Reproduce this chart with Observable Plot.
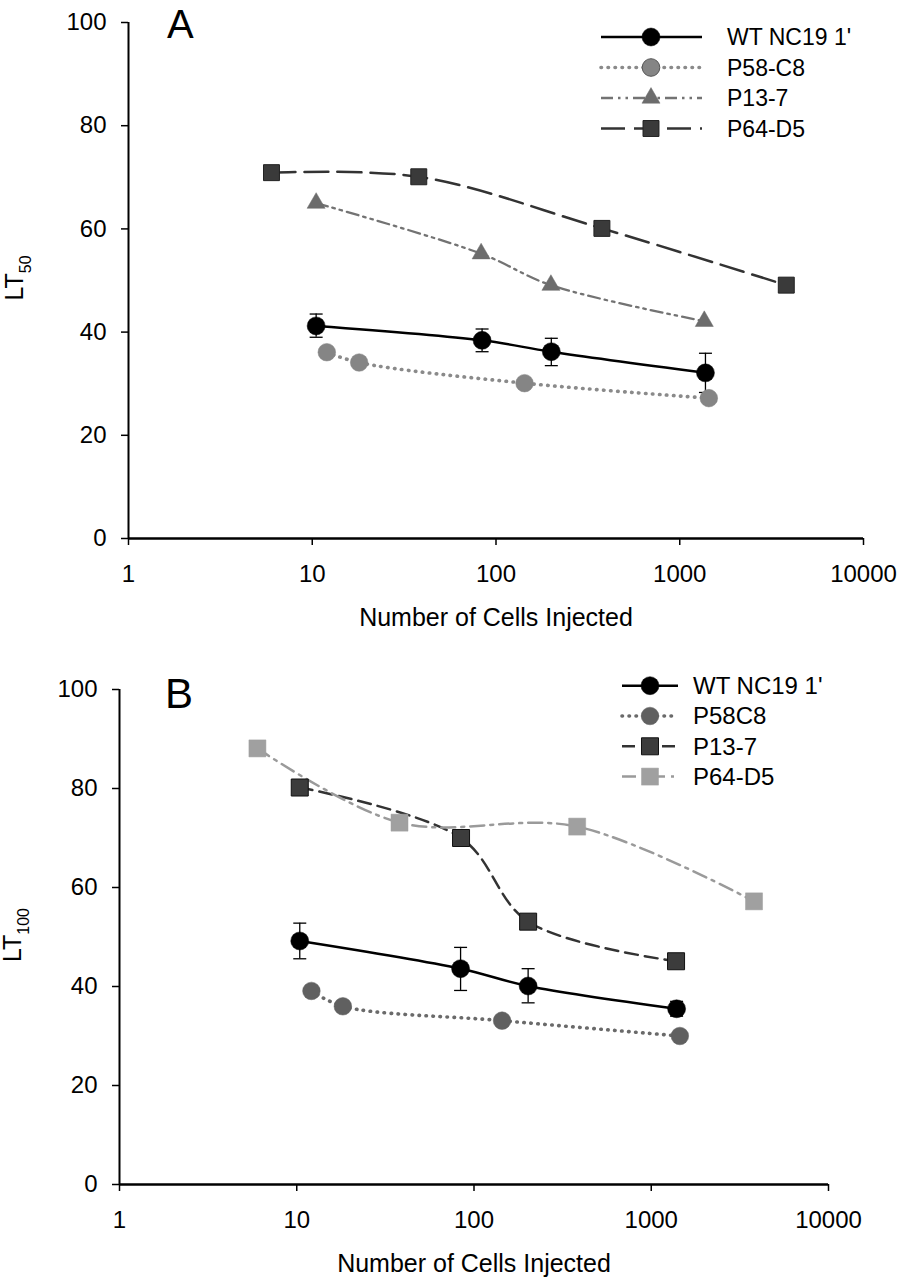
<!DOCTYPE html>
<html><head><meta charset="utf-8">
<script src="https://cdn.jsdelivr.net/npm/d3@7"></script>
<script src="https://cdn.jsdelivr.net/npm/@observablehq/plot@0.6"></script>
<style>
body{margin:0;background:#fff;}
#chart svg{display:block;}
</style></head><body><div id="chart"></div>
<script>
const FONT = "'Liberation Sans', Arial, Helvetica, sans-serif";
const xTicks = [1, 10, 100, 1000, 10000];
const yTicks = [0, 20, 40, 60, 80, 100];
const xTitle = "Number of Cells Injected";

// Panel A — LT50
const namesA = ["WT NC19 1'", "P58-C8", "P13-7", "P64-D5"];
const aWtX = [10.5, 84, 200, 1380];
const aWtY = [41.2, 38.4, 36.2, 32.1];
const aWtLo = [39.0, 36.2, 33.5, 28.3];
const aWtHi = [43.5, 40.6, 38.8, 35.9];
const aP58X = [12, 18, 143, 1440];
const aP58Y = [36.1, 34.1, 30.1, 27.2];
const aP13X = [10.5, 83, 199, 1360];
const aP13Y = [65.0, 55.2, 49.1, 42.1];
const aP64X = [6, 38, 377, 3800];
const aP64Y = [70.9, 70.1, 60.1, 49.1];

// Panel B — LT100
const namesB = ["WT NC19 1'", "P58C8", "P13-7", "P64-D5"];
const bWtX = [10.4, 84, 202, 1390];
const bWtY = [49.2, 43.6, 40.1, 35.5];
const bWtLo = [45.6, 39.2, 36.7, 34.0];
const bWtHi = [52.8, 47.9, 43.6, 37.0];
const bP58X = [12.1, 18.2, 144, 1450];
const bP58Y = [39.1, 36.0, 33.1, 30.0];
const bP13X = [10.4, 84.5, 202, 1380];
const bP13Y = [80.2, 70.0, 53.1, 45.1];
const bP64X = [6, 38, 382, 3800];
const bP64Y = [88.1, 73.1, 72.3, 57.2];

const rows = (xs, ys, lo, hi) => xs.map((x, i) => ({x, y: ys[i], lo: lo ? lo[i] : null, hi: hi ? hi[i] : null}));

const capSymbol = {draw(ctx) { ctx.moveTo(-6.5, 0); ctx.lineTo(6.5, 0); }};

const panels = [
  {
    height: 650, marginTop: 22, marginBottom: 112, marginLeft: 128, marginRight: 37,
    letter: "A", letterX: 167, letterY: 38, letterSize: 40,
    ylab: "LT", ysub: "50", ylabX: 23, ylabY: 278,
    leg: {y0: 37, dy: 30.5, x1: 601, x2: 702, mx: 651, tx: 727, fs: 23},
    series: [
      {name: namesA[0], data: rows(aWtX, aWtY, aWtLo, aWtHi), err: true,
       line: {stroke: "#000", strokeWidth: 2.5},
       dot: {symbol: "circle", r: 9, fill: "#000", stroke: "#000", strokeWidth: 0.5}},
      {name: namesA[1], data: rows(aP58X, aP58Y),
       line: {stroke: "#8a8a8a", strokeWidth: 3.6, strokeDasharray: "0.5,6.5", strokeLinecap: "round"},
       dot: {symbol: "circle", r: 8.8, fill: "#858585", stroke: "#858585", strokeWidth: 0.5},
       legDot: {stroke: "#555", strokeWidth: 1}},
      {name: namesA[2], data: rows(aP13X, aP13Y),
       line: {stroke: "#737373", strokeWidth: 2.3, strokeDasharray: "12,5,2.5,5,2.5,5"},
       dot: {symbol: "triangle", r: 6.7, fill: "#6c6c6c", stroke: "#6c6c6c", strokeWidth: 0.5}},
      {name: namesA[3], data: rows(aP64X, aP64Y),
       line: {stroke: "#333", strokeWidth: 2.5, strokeDasharray: "24,9"},
       dot: {symbol: "square", r: 9, fill: "#3a3a3a", stroke: "#222", strokeWidth: 1}}
    ]
  },
  {
    height: 630, marginTop: 39, marginBottom: 96, marginLeft: 119, marginRight: 72,
    letter: "B", letterX: 165, letterY: 58, letterSize: 42,
    ylab: "LT", ysub: "100", ylabX: 20.5, ylabY: 285,
    leg: {y0: 35.7, dy: 30.3, x1: 622, x2: 678, mx: 650, tx: 693, fs: 24},
    series: [
      {name: namesB[0], data: rows(bWtX, bWtY, bWtLo, bWtHi), err: true,
       line: {stroke: "#000", strokeWidth: 2.5},
       dot: {symbol: "circle", r: 9, fill: "#000", stroke: "#000", strokeWidth: 0.5}},
      {name: namesB[1], data: rows(bP58X, bP58Y),
       line: {stroke: "#6a6a6a", strokeWidth: 3.6, strokeDasharray: "0.5,6.5", strokeLinecap: "round"},
       dot: {symbol: "circle", r: 8.8, fill: "#606060", stroke: "#606060", strokeWidth: 0.5}},
      {name: namesB[2], data: rows(bP13X, bP13Y),
       line: {stroke: "#333", strokeWidth: 2.5, strokeDasharray: "13,7"},
       dot: {symbol: "square", r: 9.6, fill: "#3c3c3c", stroke: "#111", strokeWidth: 1}},
      {name: namesB[3], data: rows(bP64X, bP64Y),
       line: {stroke: "#9a9a9a", strokeWidth: 2.5, strokeDasharray: "14,6,3,6"},
       dot: {symbol: "square", r: 9.6, fill: "#a0a0a0", stroke: "#a0a0a0", strokeWidth: 0.5}}
    ]
  }
];

const chart = document.getElementById("chart");

for (const p of panels) {
  const lines = p.series.map(s => Plot.line(s.data, {x: "x", y: "y", curve: "catmull-rom", ...s.line}));
  const errs = p.series.filter(s => s.err).flatMap(s => [
    Plot.ruleX(s.data, {x: "x", y1: "lo", y2: "hi", stroke: "#000", strokeWidth: 1.3}),
    Plot.dot(s.data, {x: "x", y: "hi", symbol: capSymbol, stroke: "#000", strokeWidth: 1.3, fill: "none"}),
    Plot.dot(s.data, {x: "x", y: "lo", symbol: capSymbol, stroke: "#000", strokeWidth: 1.3, fill: "none"})
  ]);
  const dots = p.series.map(s => Plot.dot(s.data, {x: "x", y: "y", ...s.dot}));

  const svg = Plot.plot({
    width: 900, height: p.height,
    marginTop: p.marginTop, marginBottom: p.marginBottom,
    marginLeft: p.marginLeft, marginRight: p.marginRight,
    x: {type: "log", domain: [1, 10000]},
    y: {domain: [0, 100]},
    style: {fontFamily: FONT, color: "#000", background: "#fff", overflow: "visible"},
    marks: [
      Plot.axisX({ticks: xTicks, tickFormat: d => String(d), tickSize: 7, tickPadding: 19, fontSize: 24, label: null, strokeWidth: 1.5}),
      Plot.axisY({ticks: yTicks, tickSize: 7, tickPadding: 15, fontSize: 24, label: null, strokeWidth: 1.5}),
      Plot.ruleX([1], {strokeWidth: 2}),
      Plot.ruleY([0], {strokeWidth: 2.6}),
      Plot.text([xTitle], {frameAnchor: "bottom", dy: 79, lineAnchor: "middle", fontSize: 25, text: d => d}),
      ...lines, ...errs, ...dots
    ]
  });

  const g = d3.select(svg).append("g").attr("font-family", FONT).attr("fill", "#000");

  g.append("text").attr("x", p.letterX).attr("y", p.letterY)
    .attr("text-anchor", "start")
    .attr("font-size", p.letterSize).text(p.letter);

  const yl = g.append("text")
    .attr("transform", `translate(${p.ylabX},${p.ylabY}) rotate(-90)`)
    .attr("text-anchor", "middle").attr("font-size", 25);
  yl.append("tspan").text(p.ylab);
  yl.append("tspan").attr("font-size", 16).attr("dy", 8).text(p.ysub);

  const L = p.leg;
  p.series.forEach((s, i) => {
    const y = L.y0 + i * L.dy;
    const ln = s.line;
    g.append("line").attr("x1", L.x1).attr("x2", L.x2).attr("y1", y).attr("y2", y)
      .attr("stroke", ln.stroke).attr("stroke-width", ln.strokeWidth)
      .attr("stroke-dasharray", ln.strokeDasharray || null)
      .attr("stroke-linecap", ln.strokeLinecap || null);
    const type = {circle: d3.symbolCircle, triangle: d3.symbolTriangle, square: d3.symbolSquare}[s.dot.symbol];
    const d = s.dot, ld = s.legDot || {};
    g.append("path").attr("transform", `translate(${L.mx},${y})`)
      .attr("d", d3.symbol(type, Math.PI * d.r * d.r)())
      .attr("fill", d.fill).attr("stroke", ld.stroke || d.stroke)
      .attr("stroke-width", ld.strokeWidth || d.strokeWidth);
    g.append("text").attr("x", L.tx).attr("y", y).attr("dy", "0.35em")
      .attr("text-anchor", "start")
      .attr("font-size", L.fs).text(s.name);
  });

  chart.appendChild(svg);
}
</script>
</body></html>
